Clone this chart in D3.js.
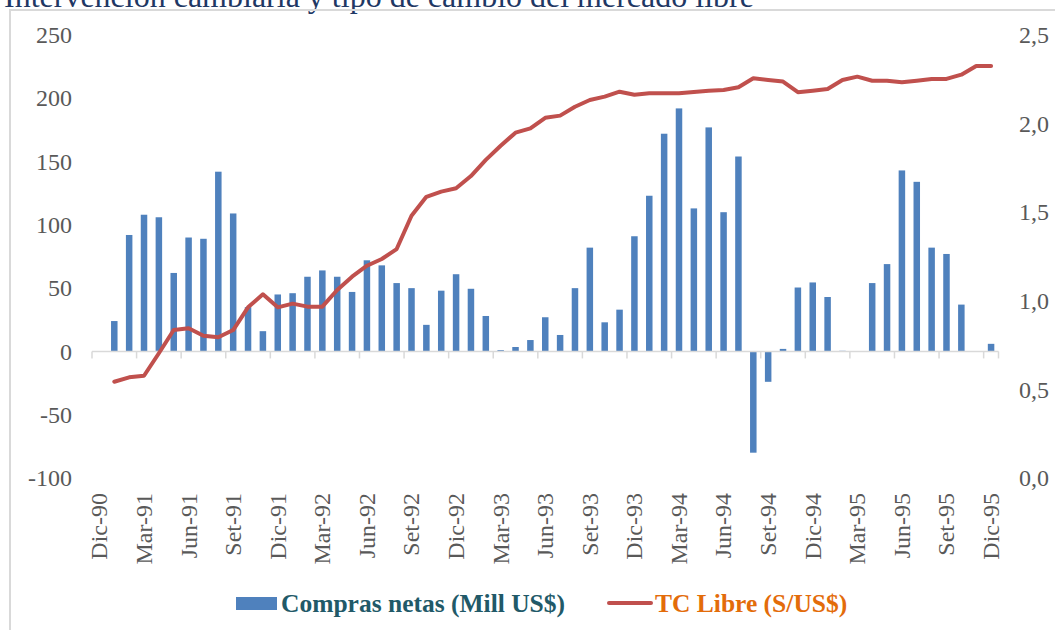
<!DOCTYPE html>
<html><head><meta charset="utf-8">
<script src="https://cdn.jsdelivr.net/npm/d3@7"></script>
<style>
html,body{margin:0;padding:0;background:#fff;}
svg{display:block;font-family:"Liberation Serif","Times New Roman",serif;}
</style></head>
<body>
<svg id="chart" width="1055" height="630"></svg>
<script>
const months = ["Dic-90","Ene-91","Feb-91","Mar-91","Abr-91","May-91","Jun-91","Jul-91","Ago-91","Set-91","Oct-91","Nov-91",
"Dic-91","Ene-92","Feb-92","Mar-92","Abr-92","May-92","Jun-92","Jul-92","Ago-92","Set-92","Oct-92","Nov-92",
"Dic-92","Ene-93","Feb-93","Mar-93","Abr-93","May-93","Jun-93","Jul-93","Ago-93","Set-93","Oct-93","Nov-93",
"Dic-93","Ene-94","Feb-94","Mar-94","Abr-94","May-94","Jun-94","Jul-94","Ago-94","Set-94","Oct-94","Nov-94",
"Dic-94","Ene-95","Feb-95","Mar-95","Abr-95","May-95","Jun-95","Jul-95","Ago-95","Set-95","Oct-95","Nov-95",
"Dic-95"];
const tickLabels = ["Dic-90","Mar-91","Jun-91","Set-91","Dic-91","Mar-92","Jun-92","Set-92","Dic-92","Mar-93","Jun-93",
"Set-93","Dic-93","Mar-94","Jun-94","Set-94","Dic-94","Mar-95","Jun-95","Set-95","Dic-95"];
const compras = [null,24,92,108,106,62,90,89,142,109,35,16,
45,46,59,64,59,47,72,68,54,50,21,48,
61,49.5,28,1,3.5,9,27,13,50,82,23,33,
91,123,172,192,113,177,110,154,-80,-24,2,50.5,
54.5,43,0.5,0,54,69,143,134,82,77,37,0,
6];
const tcLibre = [null,0.543,0.568,0.577,0.704,0.835,0.845,0.803,0.794,0.835,0.963,1.037,
0.963,0.984,0.967,0.967,1.061,1.136,1.198,1.236,1.292,1.48,1.587,1.616,
1.635,1.704,1.795,1.875,1.949,1.973,2.033,2.045,2.095,2.133,2.152,2.18,
2.163,2.171,2.171,2.171,2.178,2.186,2.19,2.205,2.256,2.246,2.237,2.177,
2.186,2.195,2.246,2.265,2.242,2.242,2.233,2.242,2.252,2.252,2.276,2.325,
2.325];
const leftTicks = [-100,-50,0,50,100,150,200,250];
const rightTicks = [0,0.5,1,1.5,2,2.5];
const title = "Intervención cambiaria y tipo de cambio del mercado libre";
const seriesNames = ["Compras netas (Mill US$)","TC Libre (S/US$)"];

const svg = d3.select("#chart");

// title (clipped at the top, as in the reference)
svg.append("text").attr("x", 4).attr("y", 7)
  .attr("font-size", 32).attr("fill", "#1f3864").text(title);

// outer border
svg.append("rect").attr("x", 10).attr("y", 10).attr("width", 1060).attr("height", 640)
  .attr("fill", "none").attr("stroke", "#d9d9d9").attr("stroke-width", 2);

const x = d3.scaleBand().domain(months).range([92, 998.5]).padding(0);
const yL = d3.scaleLinear().domain([-100, 250]).range([478, 35]);
const yR = d3.scaleLinear().domain([0, 2.5]).range([478, 35]);

// left axis labels
const gL = svg.append("g").attr("transform", "translate(72,0)")
  .call(d3.axisLeft(yL).tickValues(leftTicks).tickFormat(d => String(d)).tickSize(0).tickPadding(0));
gL.select(".domain").remove();
gL.selectAll("text").attr("font-family", "Liberation Serif, serif").attr("font-size", 24).attr("fill", "#595959");

// right axis labels
const gR = svg.append("g").attr("transform", "translate(1019,0)")
  .call(d3.axisRight(yR).tickValues(rightTicks).tickFormat(d => d.toFixed(1).replace(".", ",")).tickSize(0).tickPadding(0));
gR.select(".domain").remove();
gR.selectAll("text").attr("font-family", "Liberation Serif, serif").attr("font-size", 24).attr("fill", "#595959");

// bars
const bw = 6.5;
svg.append("g").selectAll("rect")
  .data(months.map((m, i) => ({m, v: compras[i]})).filter(d => d.v !== null))
  .join("rect")
  .attr("x", d => x(d.m) + x.bandwidth() / 2 - bw / 2)
  .attr("width", bw)
  .attr("y", d => yL(Math.max(0, d.v)))
  .attr("height", d => Math.abs(yL(d.v) - yL(0)))
  .attr("fill", "#4f81bd");

// zero axis line with ticks
const y0 = yL(0);
svg.append("line").attr("x1", x.range()[0]).attr("x2", x.range()[1])
  .attr("y1", y0).attr("y2", y0).attr("stroke", "#d9d9d9").attr("stroke-width", 1.5);
const tickIdx = months.map((m, i) => i).filter(i => i % 3 === 0).concat([months.length]);
svg.append("g").selectAll("line").data(tickIdx).join("line")
  .attr("x1", i => x.range()[0] + i * x.step()).attr("x2", i => x.range()[0] + i * x.step())
  .attr("y1", y0).attr("y2", y0 + 7).attr("stroke", "#d9d9d9").attr("stroke-width", 1.5);

// x tick labels (rotated)
svg.append("g").selectAll("text").data(tickLabels).join("text")
  .attr("transform", d => `translate(${x(d) + x.bandwidth() / 2},493) rotate(-90)`)
  .attr("text-anchor", "end").attr("dy", "0.33em")
  .attr("font-size", 24).attr("fill", "#595959").text(d => d);

// line
const line = d3.line().defined(d => d.v !== null)
  .x(d => x(d.m) + x.bandwidth() / 2).y(d => yR(d.v));
svg.append("path").datum(months.map((m, i) => ({m, v: tcLibre[i]})))
  .attr("d", line).attr("fill", "none").attr("stroke", "#c0504d")
  .attr("stroke-width", 4).attr("stroke-linejoin", "round").attr("stroke-linecap", "round");

// legend
const lg = svg.append("g");
lg.append("rect").attr("x", 236).attr("y", 597).attr("width", 41).attr("height", 13).attr("fill", "#4f81bd");
lg.append("text").attr("x", 281).attr("y", 612).attr("font-size", 25.5).attr("font-weight", "bold")
  .attr("fill", "#215968").text(seriesNames[0]);
lg.append("line").attr("x1", 609).attr("x2", 651).attr("y1", 603).attr("y2", 603)
  .attr("stroke", "#c0504d").attr("stroke-width", 4).attr("stroke-linecap", "round");
lg.append("text").attr("x", 655).attr("y", 612).attr("font-size", 25.5).attr("font-weight", "bold")
  .attr("fill", "#e36c0a").text(seriesNames[1]);
</script>
</body></html>
